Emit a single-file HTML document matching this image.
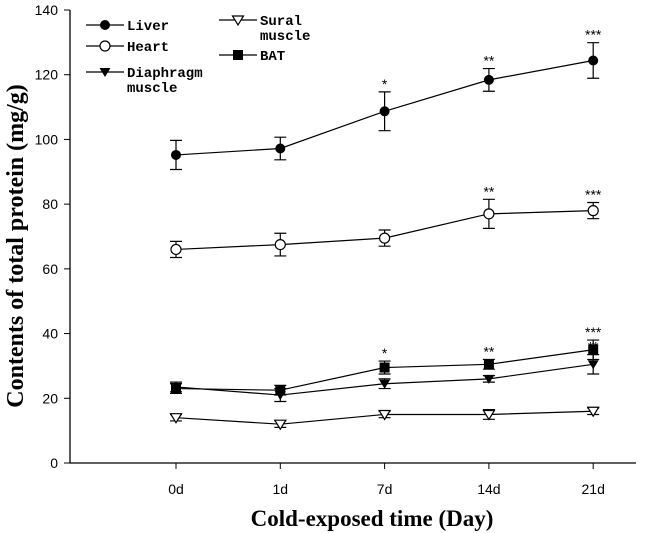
<!DOCTYPE html>
<html><head><meta charset="utf-8"><style>
html,body{margin:0;padding:0;background:#fff;}
svg{display:block;}
.tk{font-family:"Liberation Sans",sans-serif;font-size:14px;fill:#000;}
.lg{font-family:"Liberation Mono",monospace;font-weight:bold;font-size:14px;fill:#000;}
.ti{font-family:"Liberation Serif",serif;font-weight:bold;font-size:23px;fill:#000;}
.st{font-family:"Liberation Sans",sans-serif;font-size:14px;fill:#000;}
</style></head><body>
<svg id="chart" width="650" height="533">
<g id="axes"></g>
<g id="plot"></g>
<g id="legend"></g>
<text class="ti" x="372" y="526" text-anchor="middle">Cold-exposed time (Day)</text>
<text class="ti" transform="translate(23,246) rotate(-90)" text-anchor="middle" style="font-size:24px">Contents of total protein (mg/g)</text>
</svg>
<script>
const categories=["0d","1d","7d","14d","21d"];
const yTicks=[0,20,40,60,80,100,120,140];
const liver=[95.2,97.2,108.7,118.4,124.4];
const liverErr=[4.5,3.5,6,3.5,5.5];
const liverSig=["","","*","**","***"];
const heart=[66,67.5,69.5,77,78];
const heartErr=[2.5,3.5,2.5,4.5,2.5];
const heartSig=["","","","**","***"];
const diaphragm=[23.5,21,24.5,26,30.5];
const diaphragmErr=[1.5,2,1.5,1,3];
const diaphragmSig=["","","","*","**"];
const bat=[23,22.5,29.5,30.5,35];
const batErr=[1.5,1.5,2,1.5,3];
const batSig=["","","*","**","***"];
const sural=[14,12,15,15,16];
const suralErr=[1,1,1,1.5,1];

const NS="http://www.w3.org/2000/svg";
const X0=70,X1=636,Y0=463,Y1=10;
function y(v){return Y0-(v/140)*(Y0-Y1);}
function x(i){return 176+i*104.3;}
function mk(tag,attrs,parent){const e=document.createElementNS(NS,tag);for(const k in attrs)e.setAttribute(k,attrs[k]);parent.appendChild(e);return e;}
const axes=document.getElementById('axes'),plot=document.getElementById('plot'),leg=document.getElementById('legend');
let a=mk('path',{d:`M${X0},${Y1}V${Y0}H${X1}`,fill:'none',stroke:'#000','stroke-width':1.3},axes);

yTicks.forEach(t=>{
  let l=mk('line',{x1:X0-6,x2:X0,y1:y(t),y2:y(t),stroke:'#000'},axes);
  
  let tx=mk('text',{x:X0-12,y:y(t)+5,'text-anchor':'end',class:'tk'},axes);tx.textContent=t;
  
});
categories.forEach((c,i)=>{
  let l=mk('line',{x1:x(i),x2:x(i),y1:Y0,y2:Y0+6,stroke:'#000'},axes);
  
  let tx=mk('text',{x:x(i),y:Y0+31,'text-anchor':'middle',class:'tk'},axes);tx.textContent=c;
  
});
function marker(type,cx,cy,parent){
  let e;
  if(type==='fc')e=mk('circle',{cx,cy,r:5,fill:'#000'},parent);
  else if(type==='oc')e=mk('circle',{cx,cy,r:5,fill:'#fff',stroke:'#000','stroke-width':1.2},parent);
  else if(type==='ft')e=mk('path',{d:`M${cx-5.5},${cy-4}H${cx+5.5}L${cx},${cy+5}Z`,fill:'#000'},parent);
  else if(type==='ot')e=mk('path',{d:`M${cx-5.5},${cy-4}H${cx+5.5}L${cx},${cy+5}Z`,fill:'#fff',stroke:'#000','stroke-width':1.2},parent);
  else e=mk('rect',{x:cx-5,y:cy-5,width:10,height:10,fill:'#000'},parent);
  return e;
}
function series(name,vals,errs,sig,type){
  const g=mk('g',{},plot);
  
  let p=mk('polyline',{points:vals.map((v,i)=>x(i)+','+y(v)).join(' '),fill:'none',stroke:'#000','stroke-width':1.2},g);
  
  vals.forEach((v,i)=>{
    const cx=x(i),t=y(v+errs[i]),b=y(v-errs[i]);
    let eb=mk('path',{d:`M${cx},${t}V${b}M${cx-6},${t}H${cx+6}M${cx-6},${b}H${cx+6}`,stroke:'#000','stroke-width':1.2,fill:'none'},g);
    
    let m=marker(type,cx,y(v),g);
    
    if(sig&&sig[i]){
      let s=mk('text',{x:cx,y:t-3,'text-anchor':'middle',class:'st'},g);s.textContent=sig[i];
      
    }
  });
}
series('sural',sural,suralErr,null,'ot');
series('diaphragm',diaphragm,diaphragmErr,diaphragmSig,'ft');
series('bat',bat,batErr,batSig,'sq');
series('heart',heart,heartErr,heartSig,'oc');
series('liver',liver,liverErr,liverSig,'fc');
const legItems=[["Liver",null,'fc',86,25],["Heart",null,'oc',86,46],["Diaphragm","muscle",'ft',86,72],["Sural","muscle",'ot',219,20],["BAT",null,'sq',219,55]];
legItems.forEach(it=>{
  const g=mk('g',{},leg);
  
  mk('line',{x1:it[3],x2:it[3]+38,y1:it[4],y2:it[4],stroke:'#000','stroke-width':1.2},g);
  marker(it[2],it[3]+19,it[4],g);
  let t=mk('text',{x:it[3]+41,y:it[4]+5,class:'lg'},g);t.textContent=it[0];
  if(it[1]){let t2=mk('text',{x:it[3]+41,y:it[4]+20,class:'lg'},g);t2.textContent=it[1];}
});
</script>
</body></html>
